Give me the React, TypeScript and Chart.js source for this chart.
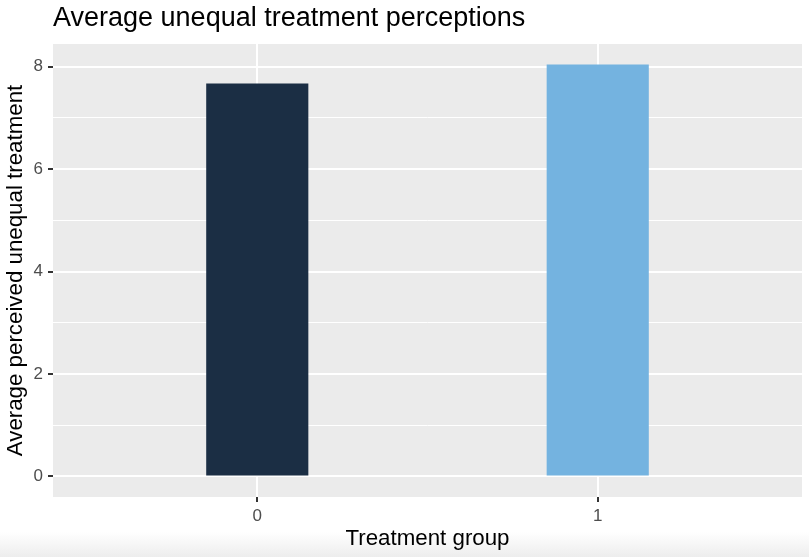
import React, { useEffect, useRef } from "react";
import { Chart, registerables } from "chart.js";

Chart.register(...registerables);

const categories: string[] = ["0", "1"];
const values: number[] = [7.67, 8.04];
const barColors: string[] = ["#1B2E44", "#74B3E0"];
const yTickValues: number[] = [0, 1, 2, 3, 4, 5, 6, 7, 8];
const chartTitle = "Average unequal treatment perceptions";
const xTitle = "Treatment group";
const yTitle = "Average perceived unequal treatment";

const FONT = "'Liberation Sans', Arial, Helvetica, sans-serif";

const panelBg = {
  id: "panelBg",
  beforeDraw(chart: any) {
    const { ctx, chartArea } = chart;
    ctx.save();
    ctx.fillStyle = "#EBEBEB";
    ctx.fillRect(chartArea.left, chartArea.top, chartArea.right - chartArea.left, chartArea.bottom - chartArea.top);
    ctx.restore();
  },
};

export default function App() {
  const ref = useRef<HTMLCanvasElement | null>(null);

  useEffect(() => {
    if (!ref.current) return;
    const dataMax = Math.max(...values, 0);
    const dataMin = Math.min(...values, 0);
    const pad = (dataMax - dataMin) * 0.05;
    const n = categories.length;

    const chart = new Chart(ref.current, {
      type: "bar",
      data: {
        datasets: [
          {
            data: categories.map((c, i) => ({ x: i, y: values[i] })) as any,
            backgroundColor: barColors,
            borderWidth: 0,
            barPercentage: 0.3,
            categoryPercentage: 1,
          },
        ],
      },
      options: {
        animation: false,
        responsive: false,
        devicePixelRatio: 1,
        layout: { padding: { left: 0, right: 7, top: 0, bottom: 0 } },
        plugins: {
          legend: { display: false },
          tooltip: { enabled: false },
          title: {
            display: true,
            text: chartTitle,
            align: "start",
            fullSize: false,
            color: "#000000",
            font: { family: FONT, size: 27, weight: "normal", lineHeight: 1.2 },
            padding: { top: 2.5, bottom: 9.1 },
          },
        },
        scales: {
          x: {
            type: "linear",
            offset: false,
            min: -0.6,
            max: n - 1 + 0.6,
            afterBuildTicks: (scale: any) => {
              scale.ticks = categories.map((c, i) => ({ value: i }));
            },
            afterFit: (scale: any) => {
              scale.height = 60;
            },
            ticks: {
              autoSkip: false,
              maxRotation: 0,
              color: "#4D4D4D",
              font: { family: FONT, size: 17 },
              padding: 4,
              callback: (v: any) => categories[Math.round(Number(v))] ?? "",
            },
            grid: {
              offset: false,
              color: "#FFFFFF",
              lineWidth: 2,
              tickColor: "#333333",
              tickLength: 5,
              tickWidth: 2,
            },
            border: { display: false },
            title: {
              display: true,
              text: xTitle,
              color: "#000000",
              font: { family: FONT, size: 22.3, lineHeight: 1.2 },
              padding: { top: 0, bottom: 4.8 },
            },
          },
          y: {
            type: "linear",
            min: dataMin - pad,
            max: dataMax + pad,
            afterBuildTicks: (scale: any) => {
              scale.ticks = yTickValues.map((v) => ({ value: v }));
            },
            afterFit: (scale: any) => {
              scale.width = 53;
            },
            ticks: {
              autoSkip: false,
              color: "#4D4D4D",
              font: { family: FONT, size: 17 },
              padding: 5,
              callback: (v: any) => (Number(v) % 2 === 0 ? String(v) : ""),
            },
            grid: {
              color: "#FFFFFF",
              lineWidth: (ctx: any) => (ctx.tick && ctx.tick.value % 2 === 0 ? 2 : 1),
              tickColor: (ctx: any) => (ctx.tick && ctx.tick.value % 2 === 0 ? "#333333" : "rgba(0,0,0,0)"),
              tickLength: 5,
              tickWidth: 2,
            },
            border: { display: false },
            title: {
              display: true,
              text: yTitle,
              color: "#000000",
              font: { family: FONT, size: 22.3, lineHeight: 1.2 },
              padding: { top: 2, bottom: 0 },
            },
          },
        },
      },
      plugins: [panelBg],
    } as any);

    return () => chart.destroy();
  }, []);

  return (
    <div
      style={{
        position: "fixed",
        left: 0,
        top: 0,
        width: 809,
        height: 557,
        background: "linear-gradient(to bottom, #FFFFFF 0px, #FFFFFF 532px, #EDEDED 557px)",
      }}
    >
      <canvas ref={ref} width={809} height={557} style={{ width: 809, height: 557, display: "block" }} />
    </div>
  );
}
